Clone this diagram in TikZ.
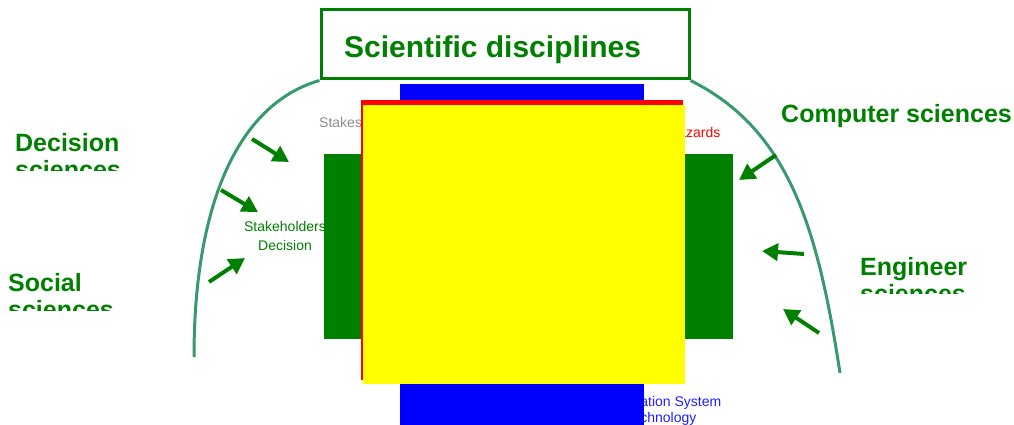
\documentclass[tikz,border=0pt]{standalone}
\usepackage{fontspec}
\setmainfont{Liberation Sans}
\usetikzlibrary{arrows.meta}
\definecolor{dgreen}{RGB}{0,128,0}
\definecolor{curvegreen}{RGB}{56,154,108}
\definecolor{pblue}{RGB}{0,0,255}
\definecolor{pred}{RGB}{255,0,0}
\definecolor{pyellow}{RGB}{255,255,0}
\definecolor{pgray}{RGB}{140,140,140}
\definecolor{tblue}{RGB}{30,30,255}
\tikzset{
  bigtext/.style={font=\fontsize{25}{27}\selectfont\bfseries, text=dgreen, inner sep=0, align=left},
  smalltext/.style={font=\fontsize{14}{19.5}\selectfont, inner sep=0, align=center},
  arr/.style={draw=dgreen, line width=4pt, -{Triangle[length=16pt,width=17pt]}},
  archline/.style={draw=curvegreen, line width=3pt},
}
\begin{document}
\begin{tikzpicture}[x=1pt,y=-1pt]
\useasboundingbox (0,0) rectangle (1014,425);
% title box
\node[draw=dgreen, line width=3pt, fill=white, minimum width=368pt, minimum height=69pt, inner sep=0] (titlebox) at (505,44.5) {};
\node[anchor=base west, inner sep=0, font=\fontsize{30}{36}\selectfont\bfseries, text=dgreen] (title) at (344,58) {Scientific disciplines};
% curves
\coordinate (lb) at (194,357);
\coordinate (rb) at (840,373);
\draw[archline] (titlebox.south west) .. controls (235,105) and (194,210) .. (lb);
\draw[archline] (titlebox.south east) .. controls (790,130) and (818,230) .. (rb);
% big labels (multi-line nodes: base = last line)
\begin{scope}
\clip (0,0) rectangle (300,170);
\node[bigtext, anchor=base west] (decsci) at (15,178) {Decision\\sciences};
\end{scope}
\begin{scope}
\clip (0,0) rectangle (300,310);
\node[bigtext, anchor=base west] (socsci) at (8,318) {Social\\sciences};
\end{scope}
\begin{scope}
\clip (850,0) rectangle (1014,293);
\node[bigtext, anchor=base west] (engsci) at (860,302) {Engineer\\sciences};
\end{scope}
\node[bigtext, anchor=base west] (compsci) at (781,123) {Computer sciences};
% small labels (partly hidden)
\node[smalltext, text=pgray, anchor=base west] (stakes) at (319,128) {Stakes};
\node[smalltext, text=pred, anchor=base west] (hazards) at (668,137) {Hazards};
\node[font=\fontsize{14}{16}\selectfont, inner sep=0, align=center, text=tblue, anchor=base] (infosys) at (661,422) {Information System\\Technology};
\node[smalltext, text=dgreen, anchor=base] (stakedec) at (285,250.5) {Stakeholders\\Decision};
% blocks
\fill[pblue] (400,84) rectangle (644,425);
\fill[dgreen] (324,154) rectangle (733,339);
\fill[pred] (361,100) rectangle (683,380);
\fill[pyellow] (363,105) rectangle (685,384);
% arrows
\coordinate (a1s) at (252,139); \coordinate (a1e) at (289,162);
\coordinate (a2s) at (221,190); \coordinate (a2e) at (258,212);
\coordinate (a3s) at (209,282); \coordinate (a3e) at (245,258);
\coordinate (a4s) at (776,155); \coordinate (a4e) at (739,180);
\coordinate (a5s) at (804,254); \coordinate (a5e) at (762,251);
\coordinate (a6s) at (819,333); \coordinate (a6e) at (783,309);
\draw[arr] (a1s) -- (a1e);
\draw[arr] (a2s) -- (a2e);
\draw[arr] (a3s) -- (a3e);
\draw[arr] (a4s) -- (a4e);
\draw[arr] (a5s) -- (a5e);
\draw[arr] (a6s) -- (a6e);
\end{tikzpicture}
\end{document}
